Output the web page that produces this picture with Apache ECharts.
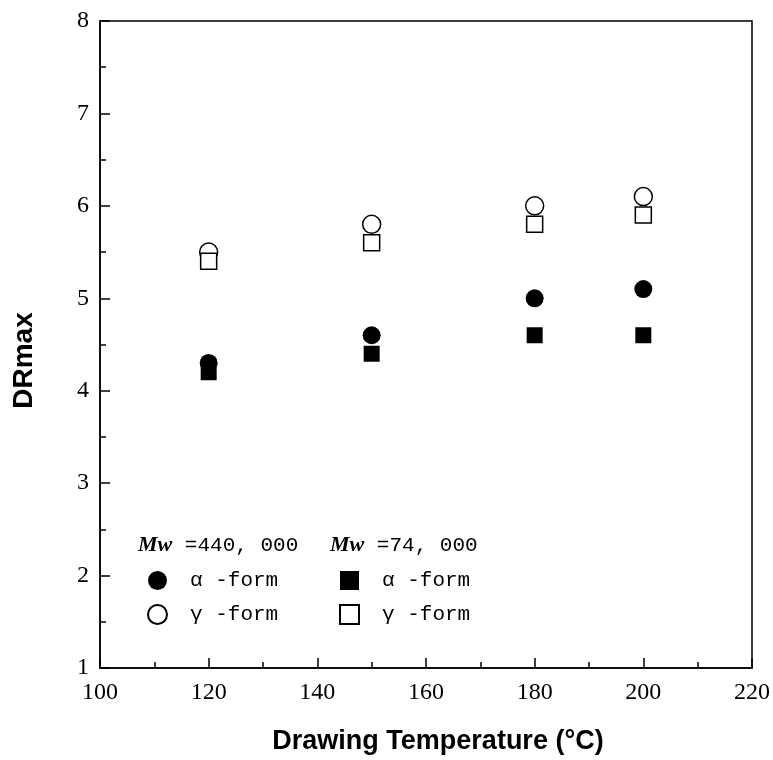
<!DOCTYPE html>
<html>
<head>
<meta charset="utf-8">
<script src="https://cdn.jsdelivr.net/npm/echarts@6/dist/echarts.min.js"></script>
<style>
  html, body { margin: 0; padding: 0; background: #fff; }
  #chart { width: 773px; height: 760px; }
</style>
</head>
<body>
<div id="chart"></div>
<script>
// drawing temperatures (°C)
const temps = [120, 150, 180, 200];
// Mw = 440,000
const hiAlpha = [4.3, 4.6, 5.0, 5.1];
const hiGamma = [5.5, 5.8, 6.0, 6.1];
// Mw = 74,000
const loAlpha = [4.2, 4.4, 4.6, 4.6];
const loGamma = [5.4, 5.6, 5.8, 5.9];

const legendText = {
    hiA: 'α -form', hiG: 'γ -form',
    loA: 'α -form', loG: 'γ -form'
};

function pairs(ys) {
    return temps.map((t, i) => [t, ys[i]]);
}

const serif = '"Liberation Serif", "DejaVu Serif", serif';
const mono = '"Liberation Mono", "DejaVu Sans Mono", monospace';
const sans = '"Liberation Sans", Arial, sans-serif';
const filled = { color: '#000', opacity: 1 };
const open = { color: '#fff', borderColor: '#000', borderWidth: 1.5, opacity: 1 };

function legend(left, names) {
    return {
        orient: 'vertical',
        left: left,
        top: 565,
        itemWidth: 19,
        itemHeight: 19,
        itemGap: 13,
        selectedMode: false,
        data: names,
        formatter: n => legendText[n],
        textStyle: { fontFamily: mono, fontSize: 21, lineHeight: 19, color: '#000', padding: [0, 0, 0, 18] }
    };
}

const myChart = echarts.init(document.getElementById('chart'));
myChart.setOption({
    animation: false,
    backgroundColor: '#fff',
    grid: {
        left: 100, right: 19, top: 21, bottom: 89,
        show: true, borderColor: '#000', borderWidth: 1.5
    },
    xAxis: {
        type: 'value',
        min: 100, max: 220, interval: 20,
        name: 'Drawing Temperature (°C)',
        nameLocation: 'middle',
        nameGap: 60,
        nameTextStyle: { fontFamily: sans, fontWeight: 'bold', fontSize: 27, color: '#000', padding: [0, 0, 0, 24] },
        axisLine: { lineStyle: { color: '#000', width: 1.5 } },
        axisTick: { inside: true, length: 10, lineStyle: { color: '#000', width: 1.5 } },
        minorTick: { show: true, splitNumber: 2, length: 6, lineStyle: { color: '#000', width: 1.5 } },
        splitLine: { show: false },
        axisLabel: { fontFamily: serif, fontSize: 24, color: '#000', margin: 13 }
    },
    yAxis: {
        type: 'value',
        min: 1, max: 8, interval: 1,
        name: 'DRmax',
        nameLocation: 'middle',
        nameGap: 62,
        nameTextStyle: { fontFamily: sans, fontWeight: 'bold', fontSize: 28, color: '#000', padding: [0, 32, 0, 0] },
        axisLine: { lineStyle: { color: '#000', width: 1.5 } },
        axisTick: { inside: true, length: 10, lineStyle: { color: '#000', width: 1.5 } },
        minorTick: { show: true, splitNumber: 2, length: 6, lineStyle: { color: '#000', width: 1.5 } },
        splitLine: { show: false },
        axisLabel: { fontFamily: serif, fontSize: 24, color: '#000', margin: 11 }
    },
    legend: [legend(142, ['hiA', 'hiG']), legend(334, ['loA', 'loG'])],
    graphic: [
        {
            type: 'text', left: 138, top: 534,
            style: {
                text: '{i|Mw} =440, 000',
                font: '21px ' + mono, fill: '#000',
                rich: { i: { fontFamily: serif, fontStyle: 'italic', fontWeight: 'bold', fontSize: 22 } }
            }
        },
        {
            type: 'text', left: 330, top: 534,
            style: {
                text: '{i|Mw} =74, 000',
                font: '21px ' + mono, fill: '#000',
                rich: { i: { fontFamily: serif, fontStyle: 'italic', fontWeight: 'bold', fontSize: 22 } }
            }
        }
    ],
    series: [
        { name: 'hiA', type: 'scatter', symbol: 'circle', symbolSize: 18, itemStyle: filled, data: pairs(hiAlpha) },
        { name: 'hiG', type: 'scatter', symbol: 'circle', symbolSize: 18, itemStyle: open, data: pairs(hiGamma) },
        { name: 'loA', type: 'scatter', symbol: 'rect', symbolSize: 16, itemStyle: filled, data: pairs(loAlpha) },
        { name: 'loG', type: 'scatter', symbol: 'rect', symbolSize: 16, itemStyle: open, data: pairs(loGamma) }
    ]
});
</script>
</body>
</html>
